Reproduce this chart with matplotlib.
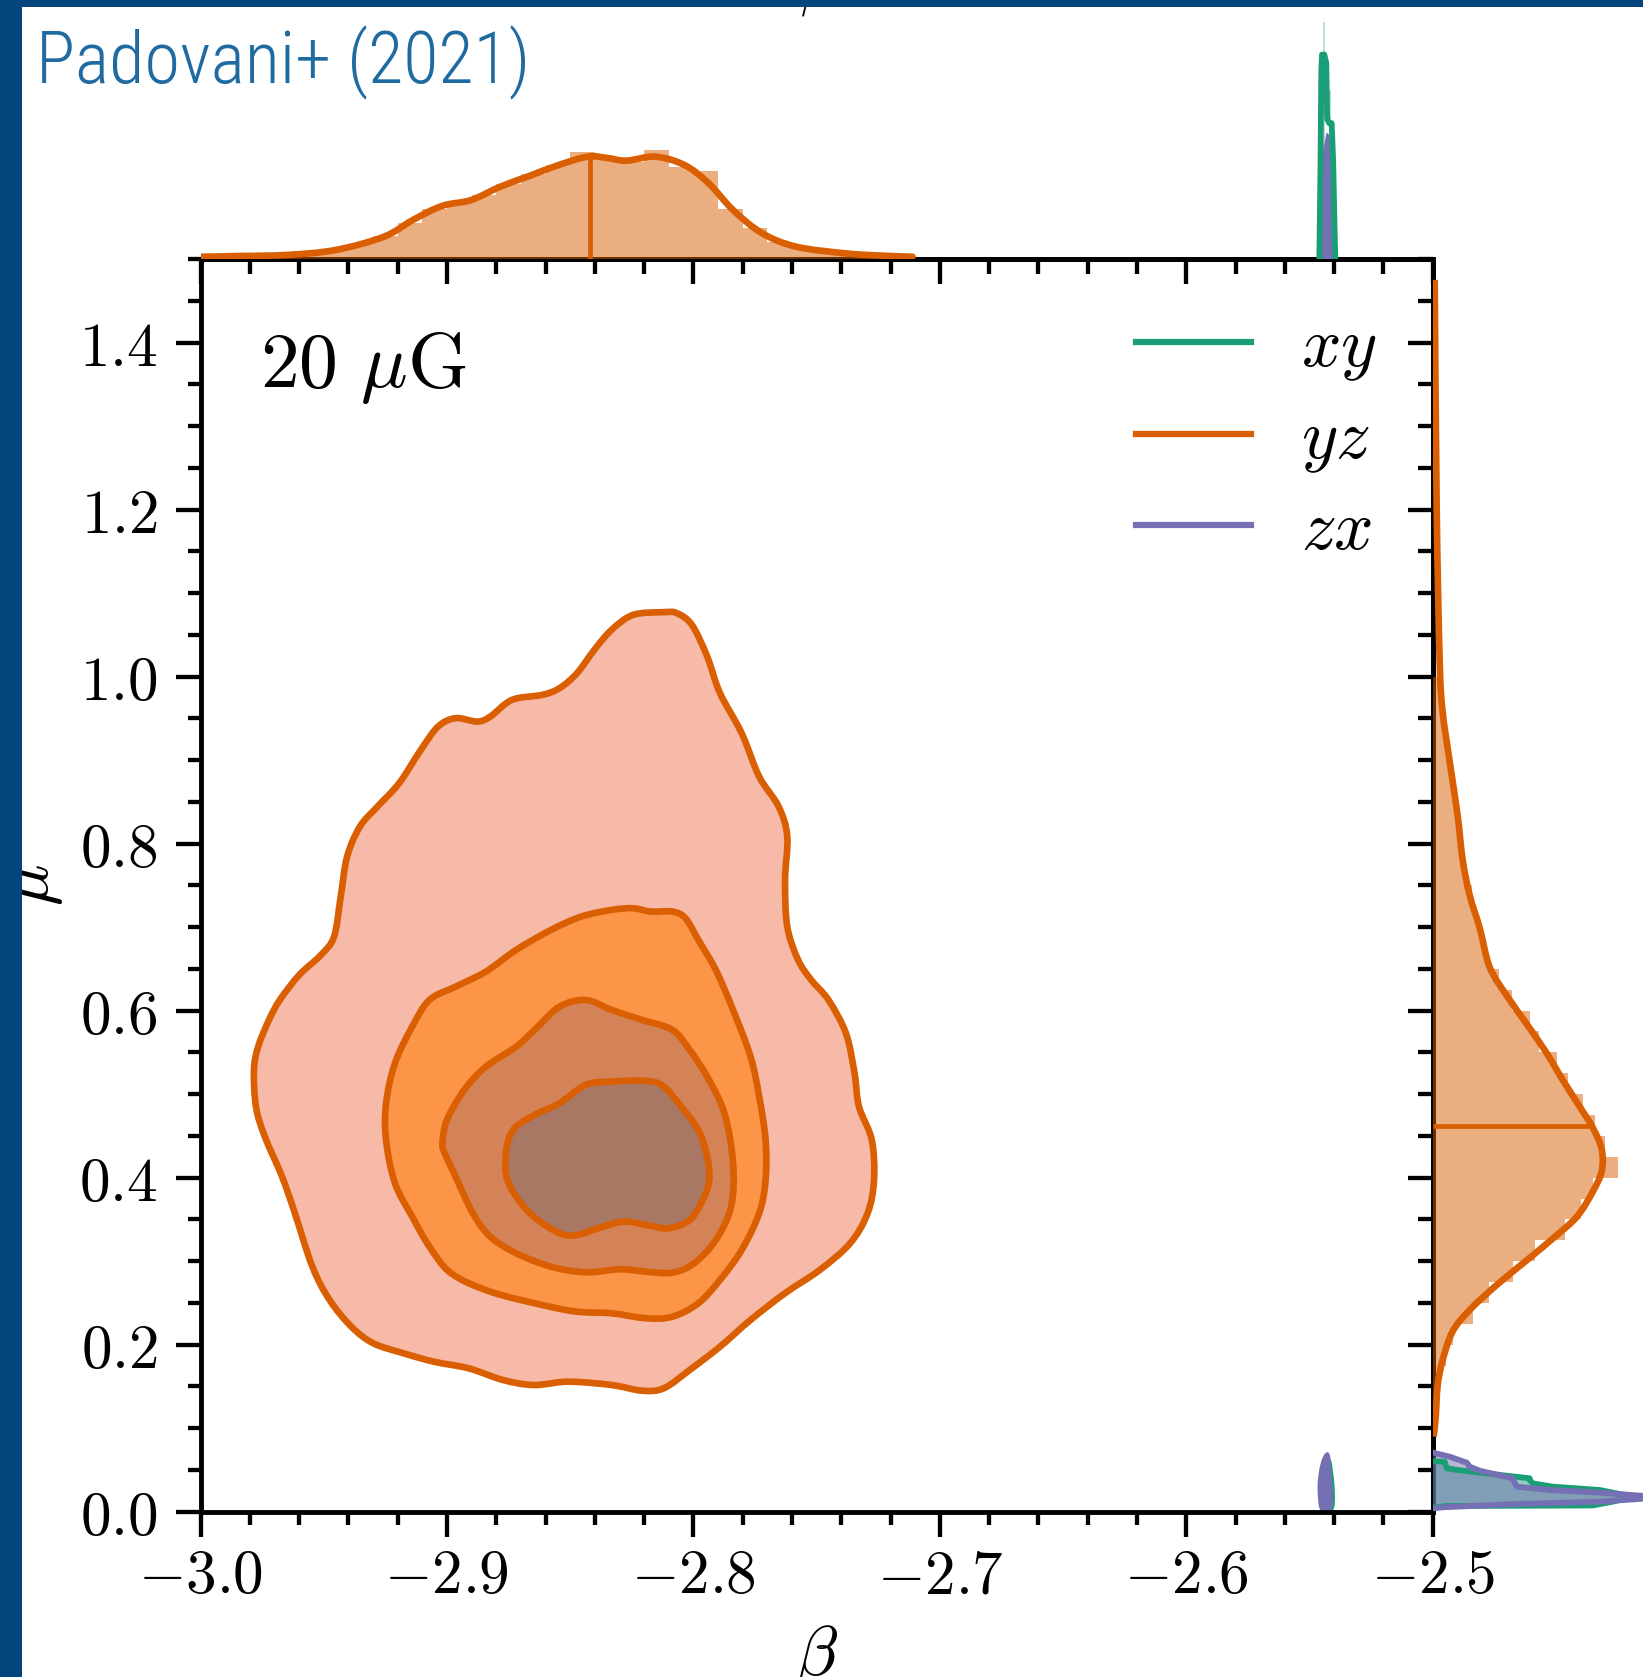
import os
import numpy as np
import matplotlib
matplotlib.use('Agg')
import matplotlib.pyplot as plt
from matplotlib import font_manager
from matplotlib.font_manager import FontProperties
from matplotlib.patches import Rectangle, PathPatch
from matplotlib.path import Path
from matplotlib.lines import Line2D
from matplotlib.ticker import MultipleLocator, FuncFormatter

plt.rcParams['mathtext.fontset'] = 'cm'
plt.rcParams['font.family'] = ['DejaVu Serif']

# ---------------- data ----------------
C_XY, C_YZ, C_ZX = '#1B9E77', '#D95F02', '#7570B3'
level_fills = ['#F7BAA8', '#FD9548', '#D48257', '#A87864']

# 2D credible contours of the yz projection (beta, mu)
yz_l1_beta = [-2.9678, -2.9599, -2.9511, -2.9458, -2.9431, -2.9405, -2.9353, -2.9282, -2.9194, -2.9106,
              -2.9036, -2.8965, -2.8877, -2.8824, -2.8736, -2.8613, -2.8543, -2.8472, -2.8402, -2.8332,
              -2.8244, -2.8120, -2.8067, -2.8006, -2.7944, -2.7892, -2.7804, -2.7733, -2.7654, -2.7619,
              -2.7628, -2.7619, -2.7575, -2.7522, -2.7452, -2.7381, -2.7346, -2.7328, -2.7276, -2.7267,
              -2.7293, -2.7364, -2.7487, -2.7628, -2.7768, -2.7892, -2.8015, -2.8120, -2.8208, -2.8332,
              -2.8508, -2.8648, -2.8772, -2.8912, -2.9053, -2.9176, -2.9299, -2.9388, -2.9476, -2.9546,
              -2.9617, -2.9669, -2.9739, -2.9775, -2.9783, -2.9766, -2.9722]
yz_l1_mu = [0.6128, 0.6428, 0.6667, 0.6886, 0.7365, 0.7844, 0.8204, 0.8443, 0.8723, 0.9122,
            0.9401, 0.9502, 0.9461, 0.9521, 0.9721, 0.9781, 0.9861, 1.0041, 1.0320, 1.0559,
            1.0739, 1.0771, 1.0759, 1.0619, 1.0240, 0.9801, 0.9322, 0.8802, 0.8443, 0.8084,
            0.7565, 0.7006, 0.6607, 0.6368, 0.6128, 0.5729, 0.5250, 0.4850, 0.4451, 0.3972,
            0.3574, 0.3214, 0.2895, 0.2616, 0.2296, 0.1976, 0.1697, 0.1478, 0.1449, 0.1517,
            0.1557, 0.1517, 0.1577, 0.1717, 0.1796, 0.1897, 0.2017, 0.2216, 0.2535, 0.2934,
            0.3574, 0.4012, 0.4491, 0.4850, 0.5290, 0.5569, 0.5889]

yz_l2_beta = [-2.9247, -2.9247, -2.9211, -2.9141, -2.9071, -2.8965, -2.8842, -2.8719, -2.8578, -2.8455,
              -2.8332, -2.8244, -2.8173, -2.8085, -2.8032, -2.7980, -2.7909, -2.7839, -2.7768, -2.7733,
              -2.7707, -2.7707, -2.7733, -2.7804, -2.7892, -2.7980, -2.8085, -2.8191, -2.8332, -2.8472,
              -2.8613, -2.8824, -2.8983, -2.9071, -2.9141, -2.9211]
yz_l2_mu = [0.4451, 0.4891, 0.5370, 0.5808, 0.6128, 0.6287, 0.6467, 0.6727, 0.6966, 0.7126,
            0.7206, 0.7226, 0.7186, 0.7186, 0.7106, 0.6847, 0.6487, 0.6008, 0.5449, 0.4970,
            0.4451, 0.3972, 0.3574, 0.3134, 0.2775, 0.2496, 0.2335, 0.2316, 0.2376, 0.2395,
            0.2475, 0.2635, 0.2855, 0.3174, 0.3533, 0.3933]

yz_l3_beta = [-2.9018, -2.9000, -2.8930, -2.8842, -2.8719, -2.8631, -2.8543, -2.8437, -2.8332, -2.8208,
              -2.8085, -2.8015, -2.7944, -2.7874, -2.7839, -2.7847, -2.7909, -2.7997, -2.8085, -2.8191,
              -2.8296, -2.8437, -2.8578, -2.8719, -2.8824, -2.8895, -2.8965, -2.9009]
yz_l3_mu = [0.4412, 0.4691, 0.5050, 0.5329, 0.5569, 0.5808, 0.6048, 0.6128, 0.6008, 0.5889,
            0.5769, 0.5529, 0.5210, 0.4771, 0.4172, 0.3653, 0.3254, 0.2975, 0.2862, 0.2874,
            0.2903, 0.2867, 0.2934, 0.3095, 0.3293, 0.3574, 0.4012, 0.4292]

yz_l4_beta = [-2.8763, -2.8754, -2.8719, -2.8631, -2.8543, -2.8437, -2.8332, -2.8191, -2.8120, -2.8050,
              -2.7980, -2.7944, -2.7936, -2.7962, -2.8015, -2.8103, -2.8191, -2.8279, -2.8367, -2.8472,
              -2.8543, -2.8648, -2.8719, -2.8754]
yz_l4_mu = [0.4132, 0.4412, 0.4611, 0.4771, 0.4891, 0.5110, 0.5150, 0.5158, 0.5090, 0.4850,
            0.4571, 0.4251, 0.3972, 0.3733, 0.3493, 0.3394, 0.3434, 0.3473, 0.3413, 0.3314,
            0.3334, 0.3533, 0.3772, 0.3972]

# tiny contours of the xy and zx projections
xy_blob_beta = [-2.5449, -2.5455, -2.5456, -2.5452, -2.5443, -2.5433, -2.5423, -2.5415, -2.5410, -2.5404,
                -2.5401, -2.5404, -2.5419, -2.5437]
xy_blob_mu = [0.003, 0.012, 0.026, 0.040, 0.052, 0.060, 0.063, 0.060, 0.050, 0.036, 0.018, 0.005, 0.001, 0.001]
zx_blob_beta = [-2.5455, -2.5461, -2.5463, -2.5459, -2.5450, -2.5440, -2.5428, -2.5420, -2.5418, -2.5413,
                -2.5410, -2.5412, -2.5425, -2.5442]
zx_blob_mu = [0.004, 0.015, 0.030, 0.045, 0.058, 0.066, 0.070, 0.066, 0.055, 0.040, 0.020, 0.006, 0.002, 0.002]

# beta marginal (top)
yz_beta_kde_x = [-2.9994, -2.985, -2.9649, -2.9453, -2.9256, -2.9138, -2.9020, -2.8902, -2.8784, -2.8666,
                 -2.8547, -2.8429, -2.8350, -2.8272, -2.8154, -2.8036, -2.7938, -2.7839, -2.7721, -2.7583,
                 -2.7387, -2.725, -2.7111]
yz_beta_kde_y = [0.16, 0.21, 0.29, 0.64, 1.59, 2.79, 3.79, 4.21, 5.16, 5.93,
                 6.71, 7.31, 7.22, 7.02, 7.31, 6.71, 5.41, 3.50, 1.84, 0.88,
                 0.41, 0.25, 0.16]
yz_beta_hist_edges = [-3.00, -2.99, -2.98, -2.97, -2.96, -2.95, -2.94, -2.93, -2.92, -2.91,
                      -2.90, -2.89, -2.88, -2.87, -2.86, -2.85, -2.84, -2.83, -2.82, -2.81,
                      -2.80, -2.79, -2.78, -2.77, -2.76, -2.75, -2.74, -2.73, -2.72, -2.71]
yz_beta_hist = [0.17, 0.20, 0.24, 0.30, 0.45, 0.68, 1.10, 1.65, 2.60, 3.55,
                4.10, 4.55, 5.35, 6.10, 6.75, 7.65, 7.25, 6.95, 7.80, 6.60,
                6.30, 3.60, 2.20, 1.25, 0.75, 0.50, 0.35, 0.25, 0.15]
yz_beta_median, yz_beta_median_h = -2.842, 7.30

xy_beta_kde_x = [-2.5460, -2.5455, -2.5452, -2.5449, -2.5440, -2.5432, -2.5428, -2.5420, -2.5410, -2.5404, -2.5398, -2.5395]
xy_beta_kde_y = [0.0, 7.0, 13.5, 14.6, 14.6, 14.0, 10.0, 9.7, 9.7, 7.0, 2.0, 0.0]
xy_beta_hist_left = [-2.5444, -2.5419]
xy_beta_hist_h = [16.9, 12.1]
zx_beta_kde_x = [-2.5460, -2.5455, -2.5450, -2.5446, -2.5440, -2.5428, -2.5421, -2.5414, -2.5405, -2.5397]
zx_beta_kde_y = [0.0, 2.5, 6.5, 7.5, 7.8, 8.9, 8.8, 6.0, 2.0, 0.0]

# mu marginal (right)
yz_mu_kde_y = [0.09, 0.113, 0.1517, 0.1817, 0.216, 0.2416, 0.2715, 0.301, 0.327, 0.353, 0.383, 0.408,
               0.434, 0.460, 0.485, 0.517, 0.549, 0.584, 0.618, 0.652, 0.699, 0.738, 0.78, 0.833,
               0.898, 0.957, 1.017, 1.20, 1.475]
yz_mu_kde_x = [0.02, 0.06, 0.10, 0.20, 0.40, 0.74, 1.28, 1.88, 2.40, 2.88, 3.20, 3.38,
               3.38, 3.20, 2.94, 2.60, 2.28, 1.88, 1.48, 1.14, 0.94, 0.74, 0.60, 0.50,
               0.34, 0.20, 0.14, 0.08, 0.04]
yz_mu_hist_edges = [0.100, 0.125, 0.150, 0.175, 0.200, 0.225, 0.250, 0.275, 0.300, 0.325, 0.350, 0.375,
                    0.400, 0.425, 0.450, 0.475, 0.500, 0.525, 0.550, 0.575, 0.600, 0.625, 0.650, 0.675,
                    0.700, 0.725, 0.750, 0.775, 0.800, 0.825, 0.850, 0.875, 0.900, 0.925, 0.950, 0.975, 1.000]
yz_mu_hist = [0.06, 0.10, 0.16, 0.26, 0.40, 0.80, 1.12, 1.60, 2.04, 2.64, 2.96, 3.20,
              3.70, 3.44, 3.24, 3.00, 2.70, 2.48, 2.12, 1.94, 1.58, 1.32, 1.08, 1.00,
              0.86, 0.78, 0.68, 0.62, 0.58, 0.52, 0.44, 0.36, 0.30, 0.24, 0.20, 0.16]
yz_mu_median, yz_mu_median_w = 0.462, 3.18

xy_mu_y = [0.005, 0.0068, 0.0075, 0.012, 0.018, 0.026, 0.030, 0.0339, 0.0379, 0.040, 0.045, 0.0499, 0.052, 0.0599, 0.0605]
xy_mu_x = [0.0, 0.28, 3.2, 3.6, 4.0, 3.34, 2.4, 2.0, 1.94, 1.94, 1.2, 0.5, 0.28, 0.24, 0.0]
zx_mu_y = [0.004, 0.0053, 0.0092, 0.012, 0.0172, 0.0228, 0.026, 0.030, 0.040, 0.0491, 0.0539, 0.0587, 0.0659, 0.0699, 0.071]
zx_mu_x = [0.0, 0.2, 1.68, 3.34, 4.6, 3.34, 2.34, 1.68, 1.6, 0.94, 0.74, 0.68, 0.34, 0.06, 0.0]

x_ticks = [-3.0, -2.9, -2.8, -2.7, -2.6, -2.5]
y_ticks = [0.0, 0.2, 0.4, 0.6, 0.8, 1.0, 1.2, 1.4]
legend_labels = ['$xy$', '$yz$', '$zx$']


# smooth (Catmull-Rom -> cubic Bezier) path through the read points
def smooth_path(x, y, closed):
    P = np.column_stack([x, y]).astype(float)
    n = len(P)
    verts, codes = [P[0]], [Path.MOVETO]
    segs = n if closed else n - 1
    for i in range(segs):
        if closed:
            p0, p1, p2, p3 = P[i - 1], P[i], P[(i + 1) % n], P[(i + 2) % n]
        else:
            p0 = P[max(i - 1, 0)]
            p1 = P[i]
            p2 = P[i + 1]
            p3 = P[min(i + 2, n - 1)]
        verts += [p1 + (p2 - p0) / 6.0, p2 - (p3 - p1) / 6.0, p2]
        codes += [Path.CURVE4] * 3
    if closed:
        verts.append(P[0])
        codes.append(Path.CLOSEPOLY)
    return Path(np.array(verts), codes)


# ---------------- figure ----------------
W, H = 1643, 1677
fig = plt.figure(figsize=(W / 100, H / 100), dpi=100)
L, R, T, B = 200.5, 1432.7, 259.0, 1511.7

ax = fig.add_axes([L / W, 1 - B / H, (R - L) / W, (B - T) / H])
ax_top = fig.add_axes([L / W, 1 - T / H, (R - L) / W, T / H], sharex=ax)
ax_right = fig.add_axes([R / W, 1 - B / H, 300 / W, (B - T) / H], sharey=ax)

LW = 4.8
# main contours
for bx, my, fc in zip([yz_l1_beta, yz_l2_beta, yz_l3_beta, yz_l4_beta],
                      [yz_l1_mu, yz_l2_mu, yz_l3_mu, yz_l4_mu], level_fills):
    ax.add_patch(PathPatch(smooth_path(bx, my, True), facecolor=fc, edgecolor=C_YZ,
                           lw=LW, joinstyle='round', zorder=2))
ax.add_patch(PathPatch(smooth_path(xy_blob_beta, xy_blob_mu, True), facecolor=C_XY,
                       edgecolor=C_XY, lw=1.5, zorder=2))
ax.add_patch(PathPatch(smooth_path(zx_blob_beta, zx_blob_mu, True), facecolor=C_ZX,
                       edgecolor=C_ZX, lw=1.5, zorder=2))

ax.set_xlim(-3.0, -2.5)
ax.set_ylim(0.0, 1.5)

fmt = FuncFormatter(lambda v, p: r'$%s$' % ('%.1f' % v))
ax.set_xticks(x_ticks)
ax.set_yticks(y_ticks)
ax.xaxis.set_minor_locator(MultipleLocator(0.02))
ax.yaxis.set_minor_locator(MultipleLocator(0.05))
ax.xaxis.set_major_formatter(fmt)
ax.yaxis.set_major_formatter(fmt)
ax.tick_params(which='both', direction='out', width=3.1, labelsize=44, top=False, right=False)
ax.tick_params(which='major', length=18)
ax.tick_params(axis='x', which='major', pad=7)
ax.tick_params(axis='y', which='major', pad=13)
ax.tick_params(which='minor', length=9.5)
for s in ax.spines.values():
    s.set_linewidth(3.5)

secx = ax.secondary_xaxis('top')
secx.set_xticks(x_ticks)
secx.xaxis.set_minor_locator(MultipleLocator(0.02))
secx.tick_params(which='both', direction='in', width=3.1, labeltop=False)
secx.tick_params(which='major', length=18)
secx.tick_params(which='minor', length=11)
secx.spines['top'].set_linewidth(3.5)
secy = ax.secondary_yaxis('right')
secy.set_yticks(y_ticks)
secy.yaxis.set_minor_locator(MultipleLocator(0.05))
secy.tick_params(which='both', direction='in', width=3.1, labelright=False)
secy.tick_params(which='major', length=18)
secy.tick_params(which='minor', length=11)
secy.spines['right'].set_linewidth(3.5)

ax.set_xlabel(r'$\beta$', fontsize=50, labelpad=12)
ax.set_ylabel(r'$\mu$', fontsize=50, labelpad=10)

ax.text(0.0483, 0.898, r'$20\ \mu{\rm G}$', transform=ax.transAxes, fontsize=56,
        ha='left', va='baseline')

handles = [Line2D([], [], color=c, lw=4.5) for c in (C_XY, C_YZ, C_ZX)]
ax.legend(handles, legend_labels, loc='upper right', bbox_to_anchor=(0.955, 0.956),
          frameon=False, fontsize=50, handlelength=1.66, handletextpad=0.72,
          labelspacing=0.32, borderpad=0, borderaxespad=0)

# top marginal
ax_top.stairs(yz_beta_hist, yz_beta_hist_edges, fill=True, color=C_YZ, alpha=0.5, lw=0)
ax_top.add_patch(PathPatch(smooth_path(yz_beta_kde_x, yz_beta_kde_y, False), fill=False,
                           edgecolor=C_YZ, lw=LW, capstyle='round'))
ax_top.vlines(yz_beta_median, 0, yz_beta_median_h, color=C_YZ, lw=3.4)
ax_top.bar(xy_beta_hist_left, xy_beta_hist_h, width=0.0007, align='edge', color=C_XY, alpha=0.3, lw=0)
ax_top.plot(xy_beta_kde_x, xy_beta_kde_y, color=C_XY, lw=4.2, solid_capstyle='round')
ax_top.fill(zx_beta_kde_x, zx_beta_kde_y, facecolor=C_ZX, edgecolor=C_ZX, lw=1.5)
ax_top.set_ylim(0, T / 14.0)
ax_top.axis('off')

# right marginal
ax_right.stairs(yz_mu_hist, yz_mu_hist_edges, orientation='horizontal', fill=True,
                color=C_YZ, alpha=0.5, lw=0)
ax_right.add_patch(PathPatch(smooth_path(yz_mu_kde_x, yz_mu_kde_y, False), fill=False,
                             edgecolor=C_YZ, lw=LW))
ax_right.hlines(yz_mu_median, 0, yz_mu_median_w, color=C_YZ, lw=3.4)
ax_right.fill_betweenx(xy_mu_y, 0, xy_mu_x, color=C_XY, alpha=0.5, lw=0)
ax_right.fill_betweenx(zx_mu_y, 0, zx_mu_x, color=C_ZX, alpha=0.5, lw=0)
ax_right.plot(xy_mu_x, xy_mu_y, color=C_XY, lw=4.2)
ax_right.plot(zx_mu_x, zx_mu_y, color=C_ZX, lw=4.2)
ax_right.set_xlim(0, 6.0)
ax_right.axis('off')

# slide frame and title
frame_c = '#03457C'
fig.patches.append(Rectangle((0, 0), 22 / W, 1, transform=fig.transFigure,
                             facecolor=frame_c, edgecolor='none', zorder=20))
fig.patches.append(Rectangle((0, 1 - 7 / H), 1, 7 / H, transform=fig.transFigure,
                             facecolor=frame_c, edgecolor='none', zorder=20))


def find_title_font():
    prefs = ['liberationsansnarrow-regular', 'liberationsansnarrow',
             'notosans-condensedlight', 'notosans-condensed',
             'robotocondensed-light', 'robotocondensed-regular',
             'opensans-condensedlight', 'opensans_condensed-light', 'opensans-condensedregular',
             'opensans_condensed-regular', 'opensanscondensed-light',
             'dejavusanscondensed', 'notosans-semicondensedlight', 'notosans-semicondensed',
             'lato-light', 'roboto-light']
    files = [f.fname for f in font_manager.fontManager.ttflist]
    try:
        files += font_manager.findSystemFonts()
    except Exception:
        pass
    base = {}
    for f in files:
        b = os.path.splitext(os.path.basename(f))[0].lower()
        base.setdefault(b, f)
    for p in prefs:
        if p in base:
            return FontProperties(fname=base[p])
    return FontProperties(family='Roboto')


tfp = find_title_font()
title = fig.text(36 / W, 1 - 83 / H, 'Padovani+ (2021)', fontproperties=tfp, color='#1F6AA0',
                 ha='left', va='baseline', zorder=21)
title.set_fontsize(54)
fig.canvas.draw()
wpx = title.get_window_extent(fig.canvas.get_renderer()).width
title.set_fontsize(54 * 494.0 / wpx)

fig.text(820 / W, 1 - 4 / H, r'$\beta$', fontsize=46, ha='center', va='baseline', zorder=5)

fig.savefig('out.png', dpi=100)
